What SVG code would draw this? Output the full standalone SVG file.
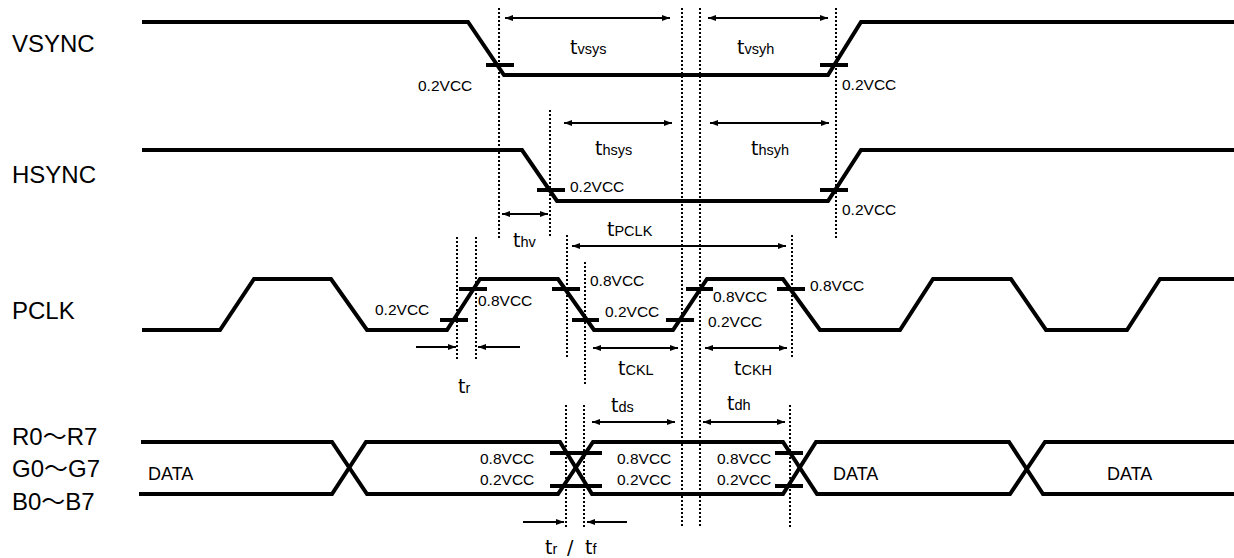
<svg xmlns="http://www.w3.org/2000/svg" width="1234" height="558" viewBox="0 0 1234 558">
<style>
.sig{fill:none;stroke:#000;stroke-width:4;stroke-linejoin:miter;stroke-linecap:butt}
.tick{stroke:#000;stroke-width:4}
.dot{stroke:#000;stroke-width:2;stroke-dasharray:2 2}
.arr{stroke:#000;stroke-width:2}
.lbl{font-family:"Liberation Sans","Noto Sans CJK JP",sans-serif;font-size:24px;fill:#000}
.v{font-family:"Liberation Sans",sans-serif;font-size:15.5px;fill:#000}
.d{font-family:"Liberation Sans",sans-serif;font-size:18px;fill:#000}
.t{font-family:"DejaVu Sans",sans-serif;font-size:19px;fill:#000}
.s{font-family:"Liberation Sans",sans-serif;font-size:14.5px}
</style>
<defs>
<marker id="ah" viewBox="0 0 8 6" refX="8" refY="3" markerWidth="8" markerHeight="6" markerUnits="userSpaceOnUse" orient="auto-start-reverse">
<path d="M0,0 L8,3 L0,6 z" fill="#000"/>
</marker>
</defs>
<g id="labels">
<text class="lbl" x="12" y="52">VSYNC</text>
<text class="lbl" x="12" y="183">HSYNC</text>
<text class="lbl" x="12" y="319">PCLK</text>
<text class="lbl" x="12" y="445">R0～R7</text>
<text class="lbl" x="12" y="477">G0～G7</text>
<text class="lbl" x="12" y="510">B0～B7</text>
</g>
<g id="vsync">
<path class="sig" d="M142,22 L468,22 L504,75 L828,75 L861,22 L1234,22"/>
<line class="tick" x1="486" y1="65" x2="514" y2="65"/>
<line class="tick" x1="820" y1="65" x2="848" y2="65"/>
<text class="v" x="418" y="91">0.2VCC</text>
<text class="v" x="842" y="90">0.2VCC</text>
</g>
<g id="hsync">
<path class="sig" d="M142,150 L522,150 L557,201 L828,201 L861,150 L1234,150"/>
<line class="tick" x1="537" y1="190" x2="565" y2="190"/>
<line class="tick" x1="820" y1="190" x2="848" y2="190"/>
<text class="v" x="570" y="192">0.2VCC</text>
<text class="v" x="842" y="215">0.2VCC</text>
</g>
<g id="pclk">
<path class="sig" d="M142,330 L220,330 L254,279 L331,279 L367,330 L447,330 L480,279 L558,279 L594,330 L673,330 L707,279 L783,279 L820,330 L900,330 L933,279 L1011,279 L1046,330 L1127,330 L1160,279 L1234,279"/>
<line class="tick" x1="440" y1="320" x2="468" y2="320"/>
<line class="tick" x1="459" y1="289" x2="487" y2="289"/>
<line class="tick" x1="552" y1="289" x2="580" y2="289"/>
<line class="tick" x1="572" y1="320" x2="599" y2="320"/>
<line class="tick" x1="666" y1="320" x2="694" y2="320"/>
<line class="tick" x1="686" y1="289" x2="713" y2="289"/>
<line class="tick" x1="777" y1="289" x2="805" y2="289"/>
<text class="v" x="375" y="315">0.2VCC</text>
<text class="v" x="478" y="306">0.8VCC</text>
<text class="v" x="590" y="286">0.8VCC</text>
<text class="v" x="605" y="317">0.2VCC</text>
<text class="v" x="713" y="302">0.8VCC</text>
<text class="v" x="708" y="327">0.2VCC</text>
<text class="v" x="810" y="291">0.8VCC</text>
</g>
<g id="data">
<path class="sig" d="M141,442 L332,442 L367,494 L558,494 L593,442 L783,442 L817,494 L1010,494 L1045,442 L1234,442"/>
<path class="sig" d="M139,494 L332,494 L366,442 L560,442 L592,494 L783,494 L816,442 L1009,442 L1043,494 L1234,494"/>
<line class="tick" x1="550" y1="453" x2="602" y2="453"/>
<line class="tick" x1="550" y1="486" x2="602" y2="486"/>
<line class="tick" x1="775" y1="453" x2="803" y2="453"/>
<line class="tick" x1="775" y1="486" x2="803" y2="486"/>
<text class="d" x="148" y="480">DATA</text>
<text class="d" x="833" y="480">DATA</text>
<text class="d" x="1107" y="480">DATA</text>
<text class="v" x="480" y="464">0.8VCC</text>
<text class="v" x="480" y="485">0.2VCC</text>
<text class="v" x="617" y="464">0.8VCC</text>
<text class="v" x="617" y="485">0.2VCC</text>
<text class="v" x="717" y="464">0.8VCC</text>
<text class="v" x="717" y="485">0.2VCC</text>
</g>
<g id="guides">
<line class="dot" x1="499" y1="8" x2="499" y2="238"/>
<line class="dot" x1="836" y1="8" x2="836" y2="238"/>
<line class="dot" x1="682" y1="8" x2="682" y2="528"/>
<line class="dot" x1="700" y1="8" x2="700" y2="528"/>
<line class="dot" x1="550" y1="110" x2="550" y2="236"/>
<line class="dot" x1="457" y1="237" x2="457" y2="361"/>
<line class="dot" x1="476" y1="237" x2="476" y2="361"/>
<line class="dot" x1="567" y1="235" x2="567" y2="359"/>
<line class="dot" x1="585" y1="262" x2="585" y2="386"/>
<line class="dot" x1="792" y1="235" x2="792" y2="359"/>
<line class="dot" x1="566" y1="405" x2="566" y2="528"/>
<line class="dot" x1="584" y1="405" x2="584" y2="528"/>
<line class="dot" x1="790" y1="405" x2="790" y2="528"/>
</g>
<g id="connectors">
<line class="arr" x1="505" y1="18" x2="670" y2="18" marker-start="url(#ah)" marker-end="url(#ah)"/>
<line class="arr" x1="708" y1="18" x2="828" y2="18" marker-start="url(#ah)" marker-end="url(#ah)"/>
<line class="arr" x1="564" y1="123" x2="672" y2="123" marker-start="url(#ah)" marker-end="url(#ah)"/>
<line class="arr" x1="710" y1="123" x2="829" y2="123" marker-start="url(#ah)" marker-end="url(#ah)"/>
<line class="arr" x1="502" y1="214" x2="548" y2="214" marker-start="url(#ah)" marker-end="url(#ah)"/>
<line class="arr" x1="572" y1="246" x2="786" y2="246" marker-start="url(#ah)" marker-end="url(#ah)"/>
<line class="arr" x1="416" y1="347" x2="456" y2="347" marker-end="url(#ah)"/>
<line class="arr" x1="520" y1="347" x2="478" y2="347" marker-end="url(#ah)"/>
<line class="arr" x1="593" y1="348" x2="678" y2="348" marker-start="url(#ah)" marker-end="url(#ah)"/>
<line class="arr" x1="705" y1="348" x2="787" y2="348" marker-start="url(#ah)" marker-end="url(#ah)"/>
<line class="arr" x1="592" y1="422" x2="675" y2="422" marker-start="url(#ah)" marker-end="url(#ah)"/>
<line class="arr" x1="703" y1="422" x2="785" y2="422" marker-start="url(#ah)" marker-end="url(#ah)"/>
<line class="arr" x1="523" y1="522" x2="564" y2="522" marker-end="url(#ah)"/>
<line class="arr" x1="627" y1="522" x2="587" y2="522" marker-end="url(#ah)"/>
</g>
<g id="timing-labels">
<text class="t" x="570" y="54">t<tspan class="s">vsys</tspan></text>
<text class="t" x="737" y="54">t<tspan class="s">vsyh</tspan></text>
<text class="t" x="595" y="155">t<tspan class="s">hsys</tspan></text>
<text class="t" x="751" y="155">t<tspan class="s">hsyh</tspan></text>
<text class="t" x="513" y="247">t<tspan class="s">hv</tspan></text>
<text class="t" x="607" y="236">t<tspan class="s">PCLK</tspan></text>
<text class="t" x="458" y="393">t<tspan class="s">r</tspan></text>
<text class="t" x="618" y="375">t<tspan class="s">CKL</tspan></text>
<text class="t" x="734" y="375">t<tspan class="s">CKH</tspan></text>
<text class="t" x="611" y="412">t<tspan class="s">ds</tspan></text>
<text class="t" x="727" y="410">t<tspan class="s">dh</tspan></text>
<text class="t" x="545" y="554">t<tspan class="s">r</tspan><tspan x="567">/</tspan><tspan x="585">t</tspan><tspan class="s">f</tspan></text>
</g>
</svg>
